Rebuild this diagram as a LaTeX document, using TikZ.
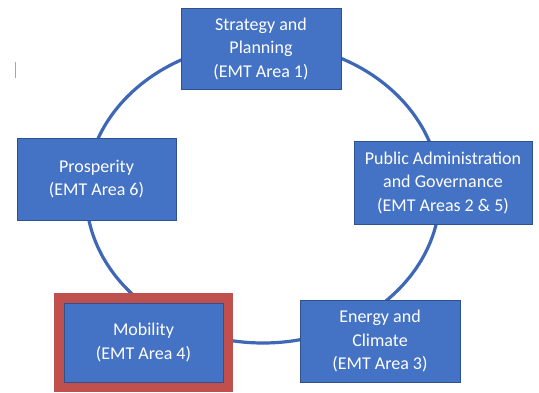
\documentclass[tikz,border=0pt]{standalone}
\usepackage{fontspec}
\setmainfont{Carlito}
\definecolor{boxblue}{RGB}{68,114,196}
\definecolor{edgeblue}{RGB}{47,82,143}
\definecolor{ringblue}{RGB}{62,104,182}
\definecolor{framered}{RGB}{192,80,77}
\begin{document}
\begin{tikzpicture}[x=1pt,y=-1pt,
  area/.style={rectangle,fill=boxblue,draw=edgeblue,line width=0.8pt,inner sep=0pt,
    text=white,align=center,font=\fontsize{18}{23.5}\selectfont},
  frame/.style={rectangle,fill=framered,inner sep=0pt},
  ring/.style={draw=ringblue,line width=3.2pt}]
\useasboundingbox (0,0) rectangle (539,392);
\fill[white] (0,0) rectangle (539,392);
% cycle ring
\draw[ring] (263,193) ellipse [x radius=177, y radius=150];
% cursor mark
\draw[gray!70,line width=0.9pt] (15.5,62) -- (15.5,78);
% boxes
\node[area,minimum width=160pt,minimum height=81pt] (strat) at (261,48.5)
  {Strategy and\\Planning\\(EMT Area 1)};
\node[area,minimum width=159pt,minimum height=82pt] (prosp) at (96.5,179)
  {Prosperity\\(EMT Area 6)};
\node[area,minimum width=178pt,minimum height=83pt] (pubad) at (443,182.5)
  {Public Administration\\and Governance\\(EMT Areas 2 \& 5)};
\node[area,minimum width=160pt,minimum height=82pt] (energy) at (380,341)
  {Energy and\\Climate\\(EMT Area 3)};
\node[frame,minimum width=179pt,minimum height=99pt] (mobframe) at (143.5,342.5) {};
\node[area,minimum width=159pt,minimum height=79pt] (mob) at (mobframe.center)
  {Mobility\\(EMT Area 4)};
\end{tikzpicture}
\end{document}
